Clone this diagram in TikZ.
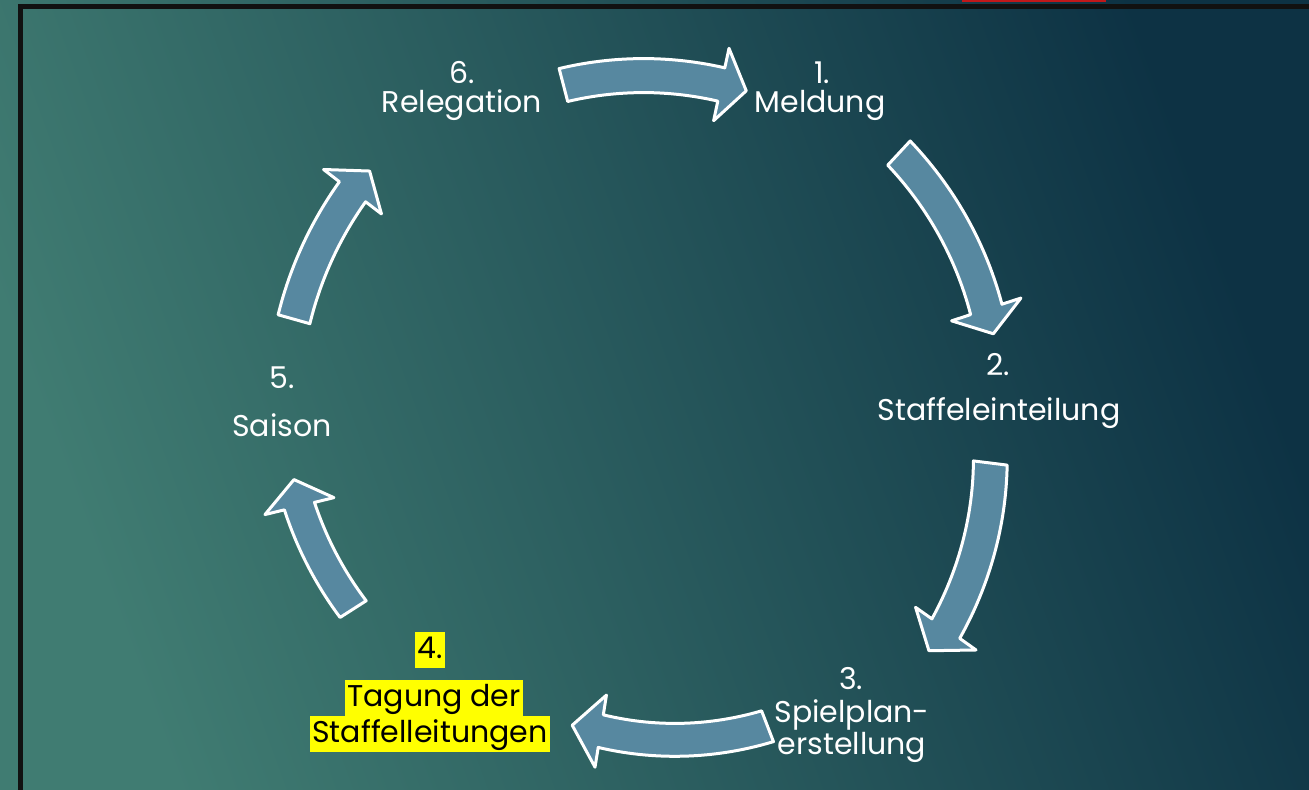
\documentclass[tikz,border=0pt]{standalone}
\usepackage{fontspec}
\setmainfont{Poppins}
\definecolor{bgA}{RGB}{64,124,114}
\definecolor{bgB}{RGB}{38,90,94}
\definecolor{bgC}{RGB}{13,50,68}
\definecolor{arrowfill}{RGB}{87,136,160}
\definecolor{frameblack}{RGB}{17,17,17}
\definecolor{topred}{RGB}{192,24,26}
\definecolor{hl}{RGB}{255,255,0}
\newcommand\cycarrow[6]{%
  \filldraw[cyclearrow, shift={(650,-420)}]
    plot[domain=0:1,samples=30,variable=\t] ({(#1)+((#2)-(#1))*\t}:{(#4)+((#5)-(#4))*\t+(#6)/2})
    -- (#2:{(#5)+(#6)/2+20}) -- (#3:{#5}) -- (#2:{(#5)-(#6)/2-20})
    -- plot[domain=0:1,samples=30,variable=\t] ({(#2)+((#1)-(#2))*\t}:{(#5)+((#4)-(#5))*\t-(#6)/2})
    -- cycle;}
\tikzset{
  cyclearrow/.style={fill=arrowfill, draw=white, line width=1.5pt, line join=round},
  lbl/.style={text=white, font=\fontsize{15}{17}\selectfont, inner sep=0pt, anchor=center},
  hlbox/.style={fill=hl, text=black, font=\fontsize{15}{17}\selectfont, inner xsep=1pt, inner ysep=0.5pt,
    text height=12.5pt, text depth=4.5pt, anchor=center}
}
\begin{document}
\begin{tikzpicture}[x=0.5pt,y=0.5pt]
\useasboundingbox (0,0) rectangle (1309,-790);
% background
\shade[bottom color=bgA, middle color=bgB, top color=bgC, shading angle=-70] (0,0) rectangle (1309,-790);
% frame
\fill[frameblack] (18,-4) rectangle (23,-790);
\fill[frameblack] (18,-4) rectangle (1309,-9);
\fill[topred] (962,0) rectangle (1106,-2);
% arrows
\cycarrow{104.5}{78}{73.7}{346}{343}{34}
\cycarrow{47}{18.2}{14.1}{365}{354}{33}
\cycarrow{-7.2}{-35.2}{-39.6}{343}{362}{34}
\cycarrow{-69}{-99}{-104.3}{328}{315}{33}
\cycarrow{-147.5}{-166.2}{-170.5}{352}{361}{31}
\cycarrow{164.2}{142.5}{138.4}{370}{375}{33}
% labels
\node[lbl] (n1a) at (822,-73) {1.};
\node[lbl] (n1b) at (820,-105) {Meldung};
\node[lbl] (n2a) at (998,-365) {2.};
\node[lbl] (n2b) at (999,-413) {Staffeleinteilung};
\node[lbl] (n3a) at (851,-679) {3.};
\node[lbl] (n3b) at (852,-715) {Spielplan-};
\node[lbl] (n3c) at (852,-747) {erstellung};
\node[hlbox] (n4a) at (430,-650) {4.};
\node[hlbox] (n4b) at (434,-698) {Tagung der\hspace{0.3em}};
\node[hlbox] (n4c) at (430,-734) {Staffelleitungen};
\node[lbl] (n5a) at (282,-378) {5.};
\node[lbl] (n5b) at (282,-425) {Saison};
\node[lbl] (n6a) at (462,-73) {6.};
\node[lbl] (n6b) at (462,-105) {Relegation};
\end{tikzpicture}
\end{document}
